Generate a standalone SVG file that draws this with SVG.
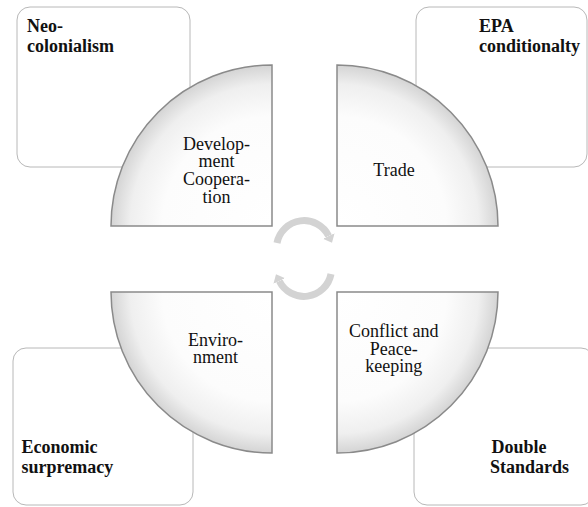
<svg xmlns="http://www.w3.org/2000/svg" width="588" height="507" viewBox="0 0 588 507">
<style>
.box{fill:#ffffff;stroke:#b8b8b8;stroke-width:1}
.q{stroke:#8a8a8a;stroke-width:1.5}
.lbl{font-family:"Liberation Serif","Times New Roman",serif;font-size:18px;font-weight:bold;fill:#111}
.ql{font-family:"Liberation Serif","Times New Roman",serif;font-size:18px;fill:#111;text-anchor:middle}
.arc{fill:none;stroke:#d3d3d3;stroke-width:7}
</style>
<defs>
<radialGradient id="gTL" cx="1" cy="1" r="1" fx="1" fy="1">
<stop offset="0" stop-color="#ffffff"/><stop offset="0.68" stop-color="#fcfcfc"/><stop offset="0.88" stop-color="#efefef"/><stop offset="1" stop-color="#d4d4d4"/>
</radialGradient>
<radialGradient id="gTR" cx="0" cy="1" r="1" fx="0" fy="1">
<stop offset="0" stop-color="#ffffff"/><stop offset="0.68" stop-color="#fcfcfc"/><stop offset="0.88" stop-color="#efefef"/><stop offset="1" stop-color="#d4d4d4"/>
</radialGradient>
<radialGradient id="gBL" cx="1" cy="0" r="1" fx="1" fy="0">
<stop offset="0" stop-color="#ffffff"/><stop offset="0.68" stop-color="#fcfcfc"/><stop offset="0.88" stop-color="#efefef"/><stop offset="1" stop-color="#d4d4d4"/>
</radialGradient>
<radialGradient id="gBR" cx="0" cy="0" r="1" fx="0" fy="0">
<stop offset="0" stop-color="#ffffff"/><stop offset="0.68" stop-color="#fcfcfc"/><stop offset="0.88" stop-color="#efefef"/><stop offset="1" stop-color="#d4d4d4"/>
</radialGradient>
<marker id="ah" markerUnits="userSpaceOnUse" markerWidth="9" markerHeight="15" viewBox="0 -7.5 9 15" refX="0" refY="0" orient="auto">
<path d="M0,-6.5 L7.5,0 L0,6.5 Z" fill="#d3d3d3"/>
</marker>
</defs>
<rect width="588" height="507" fill="#ffffff"/>

<g id="box-neocolonialism">
<rect class="box" x="17" y="7" width="173" height="160" rx="13"/>
<text class="lbl" y="31.7"><tspan x="27">Neo-</tspan><tspan x="27" dy="20">colonialism</tspan></text>
</g>
<g id="box-epa">
<rect class="box" x="416" y="7" width="171" height="160" rx="13"/>
<text class="lbl" y="31.7"><tspan x="479">EPA</tspan><tspan x="479" dy="20">conditionalty</tspan></text>
</g>
<g id="box-economic">
<rect class="box" x="13" y="348" width="180" height="157" rx="13"/>
<text class="lbl" y="453.3"><tspan x="21.5">Economic</tspan><tspan x="21.5" dy="20">surpremacy</tspan></text>
</g>
<g id="box-double">
<rect class="box" x="414" y="348" width="180" height="157" rx="13"/>
<text class="lbl" y="453.3"><tspan x="491.5">Double</tspan><tspan x="490" dy="20">Standards</tspan></text>
</g>

<g id="q-development">
<path class="q" fill="url(#gTL)" d="M272,226 L111,226 A161,161 0 0 1 272,65 Z"/>
<text class="ql" y="149.5"><tspan x="216.5">Develop-</tspan><tspan x="216.5" dy="17.7">ment</tspan><tspan x="216.5" dy="17.7">Coopera-</tspan><tspan x="216.5" dy="17.7">tion</tspan></text>
</g>
<g id="q-trade">
<path class="q" fill="url(#gTR)" d="M337,226 L337,65 A161,161 0 0 1 498,226 Z"/>
<text class="ql" x="394" y="175.7">Trade</text>
</g>
<g id="q-environment">
<path class="q" fill="url(#gBL)" d="M272,292 L272,453 A161,161 0 0 1 111,292 Z"/>
<text class="ql" y="346"><tspan x="215.5">Enviro-</tspan><tspan x="215.5" dy="17.4">nment</tspan></text>
</g>
<g id="q-conflict">
<path class="q" fill="url(#gBR)" d="M337,292 L498,292 A161,161 0 0 1 337,453 Z"/>
<text class="ql" y="337.3"><tspan x="393.7">Conflict and</tspan><tspan x="393.7" dy="17.5">Peace-</tspan><tspan x="393.7" dy="17.5">keeping</tspan></text>
</g>

<g id="connectors">
<path class="arc" marker-end="url(#ah)" d="M277,243 A27.5,27.5 0 0 1 328.7,236"/>
<path class="arc" marker-end="url(#ah)" d="M331,274 A27.5,27.5 0 0 1 279.3,281"/>
</g>
</svg>
